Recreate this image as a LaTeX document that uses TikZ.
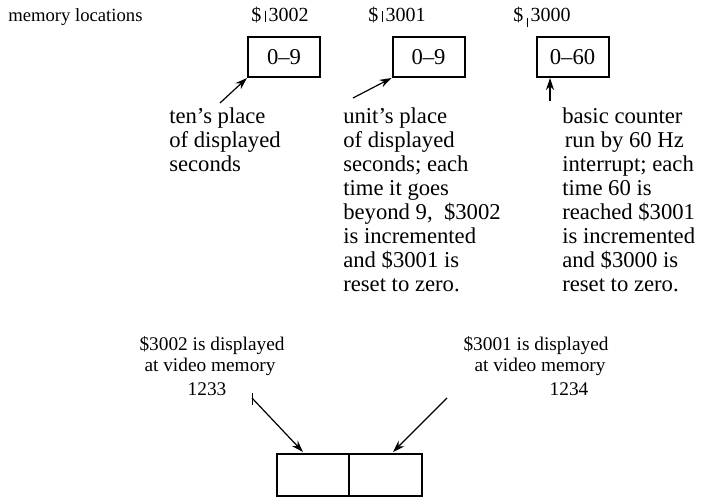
\documentclass[tikz,border=0pt]{standalone}
\usepackage{fontspec}
\setmainfont{Liberation Serif}
\usetikzlibrary{arrows.meta}
\begin{document}
\begin{tikzpicture}[x=0.75pt,y=-0.75pt,
  membox/.style={draw,line width=1.5pt,minimum width=54pt,minimum height=30pt,inner sep=0pt,font=\fontsize{17}{18}\selectfont},
  lbl/.style={font=\fontsize{15}{16}\selectfont,inner sep=0pt},
  blk/.style={font=\fontsize{17}{18}\selectfont,align=left,inner sep=0pt},
  bot/.style={font=\fontsize{14.5}{16}\selectfont,inner sep=0pt},
  arr/.style={line width=0.9pt,-{Stealth[length=9pt,width=6pt]}}]
\useasboundingbox (0,0) rectangle (702,498);
% top labels
\node[lbl,anchor=base west,font=\fontsize{14}{16}\selectfont] (ml) at (8,22) {memory locations};
\node[lbl,anchor=base] (l2) at (280,22) {\$\,\rule{0.5pt}{8pt}\,3002};
\node[lbl,anchor=base] (l1) at (397,22) {\$\,\rule{0.5pt}{8pt}\,3001};
\node[lbl,anchor=base] (l0) at (542,22) {\$\,\rule[-4pt]{0.5pt}{7pt}\,3000};
% boxes
\node[membox] (b2) at (284,57) {0--9};
\node[membox] (b1) at (428.5,57) {0--9};
\node[membox] (b0) at (572.5,57) {0--60};
% descriptions (anchor = baseline of last line)
\node[blk,anchor=base west] (t2) at (169,172) {ten's place\\of displayed\\seconds};
\node[blk,anchor=base west] (t1) at (343,292) {unit's place\\of displayed\\seconds; each\\time it goes\\beyond 9, \ \$3002\\is incremented\\and \$3001 is\\reset to zero.};
\node[blk,anchor=base west] (t0) at (562,292) {basic counter\\\hspace{2pt}run by 60 Hz\\interrupt; each\\time 60 is\\reached \$3001\\is incremented\\and \$3000 is\\reset to zero.};
% arrows
\coordinate (a2) at (220,103);
\coordinate (a1) at (353,98);
\coordinate (a0) at (550,101);
\draw[arr] (a2) -- (b2.south west);
\draw[arr] (a1) -- (b1.south west);
\draw[arr] (a0) -- (b0.south -| a0);
% bottom labels
\node[bot,anchor=base] (d2a) at (212,350) {\$3002 is displayed};
\node[bot,anchor=base] (d2b) at (210,372) {at video memory};
\node[bot,anchor=base] (d2c) at (207,395) {1233};
\node[bot,anchor=base] (d1a) at (536,350) {\$3001 is displayed};
\node[bot,anchor=base] (d1b) at (540,372) {at video memory};
\node[bot,anchor=base] (d1c) at (569,395) {1234};
% video cells
\node[draw,line width=1.5pt,minimum width=54pt,minimum height=32pt,inner sep=0pt] (v1) at (313,475) {};
\node[draw,line width=1.5pt,minimum width=54.75pt,minimum height=32pt,inner sep=0pt] (v2) at (385.5,475) {};
\coordinate (c1) at (252,398);
\coordinate (c2) at (447,398);
\draw[line width=0.7pt] (252,393) -- (252,405);
\draw[arr] (c1) -- (303,452);
\draw[arr] (c2) -- (393,452);
\end{tikzpicture}
\end{document}
